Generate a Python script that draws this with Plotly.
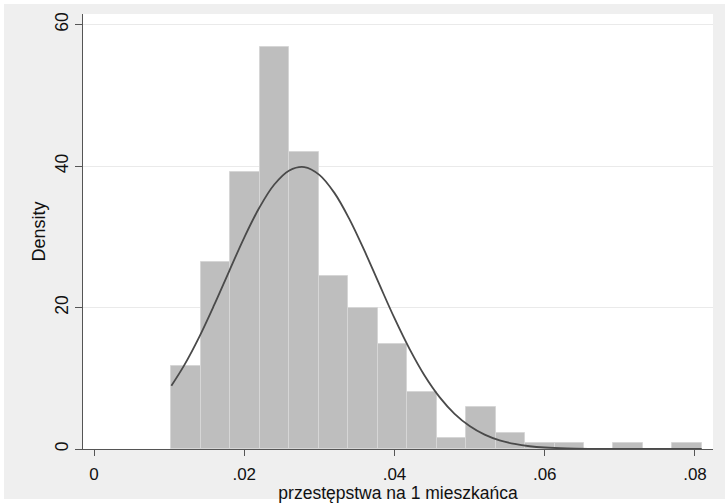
import plotly.graph_objects as go

# ---- data ----
bin_start = 0.01029
bin_width = 0.003924
density = [11.8, 26.5, 39.1, 56.8, 42.0, 24.4, 19.9, 14.8, 8.1, 1.5,
           6.0, 2.3, 0.85, 0.85, 0.0, 0.85, 0.0, 0.85]

curve_x = [0.0103, 0.012, 0.014, 0.016, 0.018, 0.020, 0.022, 0.024, 0.026,
           0.028, 0.030, 0.032, 0.034, 0.036, 0.038, 0.040, 0.042, 0.044,
           0.046, 0.048, 0.050, 0.052, 0.054, 0.056, 0.058, 0.060, 0.063,
           0.066, 0.070, 0.075, 0.0809]
curve_y = [8.94, 11.82, 15.82, 20.36, 25.16, 29.89, 34.10, 37.39, 39.38,
           39.86, 38.76, 36.21, 32.50, 28.03, 23.23, 18.49, 14.15, 10.39,
           7.34, 4.98, 3.25, 2.03, 1.22, 0.71, 0.39, 0.21, 0.076,
           0.025, 0.005, 0.0003, 0.0]

x_tickvals = [0, 0.02, 0.04, 0.06, 0.08]
x_ticktext = ["0", ".02", ".04", ".06", ".08"]
y_tickvals = [0, 20, 40, 60]
y_ticktext = ["0", "20", "40", "60"]

x_title = "przestępstwa na 1 mieszkańca"
y_title = "Density"

centers = [bin_start + bin_width * (i + 0.5) for i in range(len(density))]

fig = go.Figure()
fig.add_trace(go.Bar(
    x=centers, y=density, width=[bin_width] * len(density),
    marker=dict(color="#bebebe", line=dict(color="#d6d6d6", width=1)),
    showlegend=False, hoverinfo="skip",
))
fig.add_trace(go.Scatter(
    x=curve_x, y=curve_y, mode="lines",
    line=dict(color="#4a4a4a", width=1.8, shape="spline"),
    showlegend=False, hoverinfo="skip",
))

L, R, T, B = 83, 15, 14, 54
W, H = 728, 503
pw, ph = W - L - R, H - T - B

def px2paper_x(px):
    return (px - L) / pw

def px2paper_y(py):
    return (H - B - py) / ph

fig.update_layout(
    width=W, height=H,
    margin=dict(l=L, r=R, t=T, b=B, pad=0),
    paper_bgcolor="white",
    plot_bgcolor="white",
    font=dict(family="Liberation Sans, Arial, sans-serif", size=18, color="#111111"),
    bargap=0,
    shapes=[
        dict(type="rect", xref="paper", yref="paper", layer="below",
             x0=px2paper_x(4), x1=px2paper_x(725), y0=px2paper_y(499), y1=px2paper_y(4),
             fillcolor="#efefef", line=dict(width=0)),
        dict(type="rect", xref="paper", yref="paper", layer="below",
             x0=0, x1=1, y0=0, y1=1,
             fillcolor="white", line=dict(width=0)),
    ],
    xaxis=dict(
        range=[-0.001464, 0.0824],
        tickvals=x_tickvals, ticktext=x_ticktext,
        showgrid=False, zeroline=False, automargin=False,
        showline=True, linecolor="#555555", linewidth=1.2,
        ticks="outside", ticklen=6, tickcolor="#555555", tickwidth=1.2,
        tickfont=dict(size=17), ticklabelstandoff=3,
        title=dict(text=x_title, font=dict(size=17.5), standoff=0),
    ),
    yaxis=dict(
        range=[0, 61.5],
        tickvals=y_tickvals, ticktext=y_ticktext,
        tickangle=-90,
        showgrid=True, gridcolor="#eaeaea", gridwidth=1.2,
        zeroline=False, automargin=False,
        showline=True, linecolor="#555555", linewidth=1.2,
        ticks="outside", ticklen=7, tickcolor="#555555", tickwidth=1.2,
        tickfont=dict(size=17.5),
        title=dict(text=y_title, font=dict(size=18), standoff=1),
    ),
)

fig.write_html("out.html", post_script="document.body.style.margin='0';",
               config={"displayModeBar": False})
